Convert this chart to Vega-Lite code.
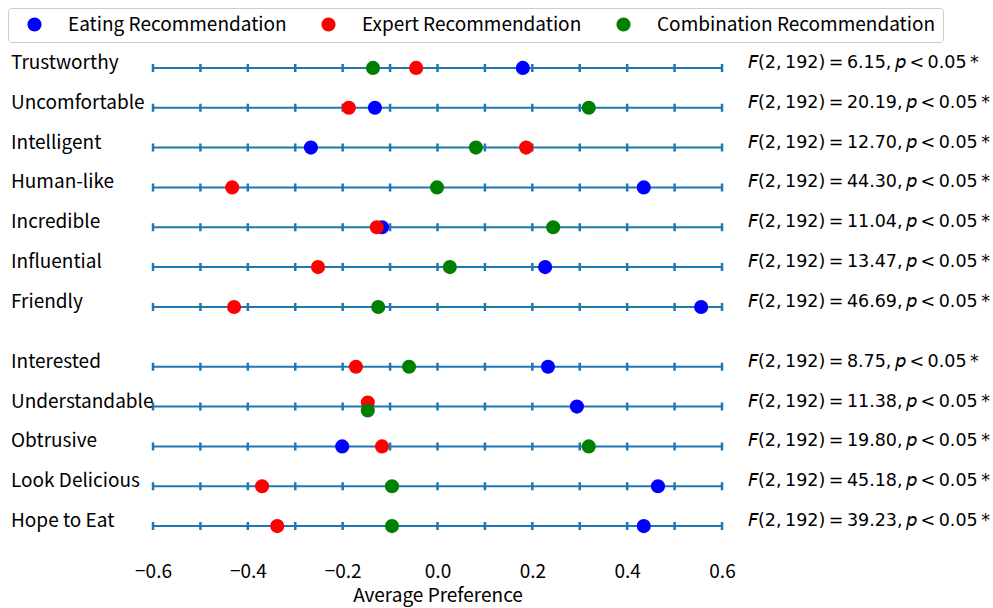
{
  "$schema": "https://vega.github.io/schema/vega-lite/v6.json",
  "width": 569,
  "height": 498,
  "autosize": {"type": "none"},
  "padding": {"left": 153, "top": 48, "right": 271, "bottom": 62},
  "background": "white",
  "config": {"view": {"stroke": null}, "font": "Noto Sans CJK JP"},
  "datasets": {
    "rows": [
      {"attr": "Trustworthy", "pos": 0, "stat": "𝘍(2,\u2009192)\u2009=\u20096.15,\u2009𝘱\u2009<\u20090.05\u2009*"},
      {"attr": "Uncomfortable", "pos": 1, "stat": "𝘍(2,\u2009192)\u2009=\u200920.19,\u2009𝘱\u2009<\u20090.05\u2009*"},
      {"attr": "Intelligent", "pos": 2, "stat": "𝘍(2,\u2009192)\u2009=\u200912.70,\u2009𝘱\u2009<\u20090.05\u2009*"},
      {"attr": "Human-like", "pos": 3, "stat": "𝘍(2,\u2009192)\u2009=\u200944.30,\u2009𝘱\u2009<\u20090.05\u2009*"},
      {"attr": "Incredible", "pos": 4, "stat": "𝘍(2,\u2009192)\u2009=\u200911.04,\u2009𝘱\u2009<\u20090.05\u2009*"},
      {"attr": "Influential", "pos": 5, "stat": "𝘍(2,\u2009192)\u2009=\u200913.47,\u2009𝘱\u2009<\u20090.05\u2009*"},
      {"attr": "Friendly", "pos": 6, "stat": "𝘍(2,\u2009192)\u2009=\u200946.69,\u2009𝘱\u2009<\u20090.05\u2009*"},
      {"attr": "Interested", "pos": 7.5, "stat": "𝘍(2,\u2009192)\u2009=\u20098.75,\u2009𝘱\u2009<\u20090.05\u2009*"},
      {"attr": "Understandable", "pos": 8.5, "stat": "𝘍(2,\u2009192)\u2009=\u200911.38,\u2009𝘱\u2009<\u20090.05\u2009*"},
      {"attr": "Obtrusive", "pos": 9.5, "stat": "𝘍(2,\u2009192)\u2009=\u200919.80,\u2009𝘱\u2009<\u20090.05\u2009*"},
      {"attr": "Look Delicious", "pos": 10.5, "stat": "𝘍(2,\u2009192)\u2009=\u200945.18,\u2009𝘱\u2009<\u20090.05\u2009*"},
      {"attr": "Hope to Eat", "pos": 11.5, "stat": "𝘍(2,\u2009192)\u2009=\u200939.23,\u2009𝘱\u2009<\u20090.05\u2009*"}
    ],
    "points": [
      {"attr": "Trustworthy", "group": "Eating Recommendation", "value": 0.18, "pos": 0},
      {"attr": "Uncomfortable", "group": "Eating Recommendation", "value": -0.132, "pos": 1},
      {"attr": "Intelligent", "group": "Eating Recommendation", "value": -0.267, "pos": 2},
      {"attr": "Human-like", "group": "Eating Recommendation", "value": 0.435, "pos": 3},
      {"attr": "Incredible", "group": "Eating Recommendation", "value": -0.117, "pos": 4},
      {"attr": "Influential", "group": "Eating Recommendation", "value": 0.227, "pos": 5},
      {"attr": "Friendly", "group": "Eating Recommendation", "value": 0.556, "pos": 6},
      {"attr": "Interested", "group": "Eating Recommendation", "value": 0.233, "pos": 7.5},
      {"attr": "Understandable", "group": "Eating Recommendation", "value": 0.294, "pos": 8.5},
      {"attr": "Obtrusive", "group": "Eating Recommendation", "value": -0.201, "pos": 9.5},
      {"attr": "Look Delicious", "group": "Eating Recommendation", "value": 0.465, "pos": 10.5},
      {"attr": "Hope to Eat", "group": "Eating Recommendation", "value": 0.435, "pos": 11.5},
      {"attr": "Trustworthy", "group": "Expert Recommendation", "value": -0.045, "pos": 0},
      {"attr": "Uncomfortable", "group": "Expert Recommendation", "value": -0.187, "pos": 1},
      {"attr": "Intelligent", "group": "Expert Recommendation", "value": 0.187, "pos": 2},
      {"attr": "Human-like", "group": "Expert Recommendation", "value": -0.433, "pos": 3},
      {"attr": "Incredible", "group": "Expert Recommendation", "value": -0.128, "pos": 4},
      {"attr": "Influential", "group": "Expert Recommendation", "value": -0.252, "pos": 5},
      {"attr": "Friendly", "group": "Expert Recommendation", "value": -0.429, "pos": 6},
      {"attr": "Interested", "group": "Expert Recommendation", "value": -0.172, "pos": 7.5},
      {"attr": "Understandable", "group": "Expert Recommendation", "value": -0.147, "pos": 8.4},
      {"attr": "Obtrusive", "group": "Expert Recommendation", "value": -0.117, "pos": 9.5},
      {"attr": "Look Delicious", "group": "Expert Recommendation", "value": -0.37, "pos": 10.5},
      {"attr": "Hope to Eat", "group": "Expert Recommendation", "value": -0.338, "pos": 11.5},
      {"attr": "Trustworthy", "group": "Combination Recommendation", "value": -0.136, "pos": 0},
      {"attr": "Uncomfortable", "group": "Combination Recommendation", "value": 0.319, "pos": 1},
      {"attr": "Intelligent", "group": "Combination Recommendation", "value": 0.081, "pos": 2},
      {"attr": "Human-like", "group": "Combination Recommendation", "value": -0.001, "pos": 3},
      {"attr": "Incredible", "group": "Combination Recommendation", "value": 0.244, "pos": 4},
      {"attr": "Influential", "group": "Combination Recommendation", "value": 0.026, "pos": 5},
      {"attr": "Friendly", "group": "Combination Recommendation", "value": -0.125, "pos": 6},
      {"attr": "Interested", "group": "Combination Recommendation", "value": -0.06, "pos": 7.5},
      {"attr": "Understandable", "group": "Combination Recommendation", "value": -0.147, "pos": 8.6},
      {"attr": "Obtrusive", "group": "Combination Recommendation", "value": 0.319, "pos": 9.5},
      {"attr": "Look Delicious", "group": "Combination Recommendation", "value": -0.096, "pos": 10.5},
      {"attr": "Hope to Eat", "group": "Combination Recommendation", "value": -0.096, "pos": 11.5}
    ]
  },
  "layer": [
    {
      "data": {"name": "rows"},
      "mark": {"type": "rule", "color": "#1f77b4", "strokeWidth": 2},
      "encoding": {
        "x": {"datum": -0.6, "type": "quantitative", "scale": {"domain": [-0.6, 0.6], "nice": false, "zero": false}},
        "x2": {"datum": 0.6},
        "y": {"field": "pos", "type": "quantitative", "scale": {"domain": [-0.5, 12], "reverse": true, "nice": false, "zero": false}, "axis": null}
      }
    },
    {
      "data": {"name": "rows"},
      "mark": {"type": "rule", "color": "#1f77b4", "strokeWidth": 8, "strokeDash": [2.5, 44.91667], "xOffset": -1.25, "x2Offset": 1.25},
      "encoding": {
        "x": {"datum": -0.6, "type": "quantitative"},
        "x2": {"datum": 0.6},
        "y": {"field": "pos", "type": "quantitative"}
      }
    },
    {
      "data": {"name": "rows"},
      "mark": {"type": "text", "align": "left", "baseline": "middle", "dx": -142, "dy": -5, "fontSize": 19, "font": "Noto Sans CJK JP", "color": "black"},
      "encoding": {
        "x": {"datum": -0.6, "type": "quantitative"},
        "y": {"field": "pos", "type": "quantitative"},
        "text": {"field": "attr"}
      }
    },
    {
      "data": {"name": "rows"},
      "mark": {"type": "text", "align": "left", "baseline": "middle", "dx": 26, "dy": -5, "fontSize": 17.5, "font": "DejaVu Sans", "color": "black"},
      "encoding": {
        "x": {"datum": 0.6, "type": "quantitative"},
        "y": {"field": "pos", "type": "quantitative"},
        "text": {"field": "stat"}
      }
    },
    {
      "data": {"name": "points"},
      "mark": {"type": "point", "filled": true, "opacity": 1, "size": 200, "shape": "circle", "strokeWidth": 0},
      "encoding": {
        "x": {
          "field": "value", "type": "quantitative",
          "axis": {"values": [-0.6, -0.4, -0.2, 0, 0.2, 0.4, 0.6], "format": ".1f", "title": "Average Preference", "domain": false, "ticks": false, "grid": false, "labelFlush": false, "labelFontSize": 19, "labelFont": "Noto Sans CJK JP", "labelColor": "black", "labelPadding": 16, "titleFontSize": 19, "titleFont": "Noto Sans CJK JP", "titleFontWeight": "normal", "titleColor": "black", "titlePadding": 5}
        },
        "y": {"field": "pos", "type": "quantitative"},
        "color": {
          "field": "group", "type": "nominal",
          "scale": {"domain": ["Eating Recommendation", "Expert Recommendation", "Combination Recommendation"], "range": ["#0000ff", "#ff0000", "#008000"]},
          "legend": {"orient": "none", "legendX": -145, "legendY": -40, "direction": "horizontal", "title": null, "strokeColor": "#cccccc", "cornerRadius": 3, "padding": 7, "symbolSize": 200, "symbolType": "circle", "symbolOpacity": 1, "symbolStrokeWidth": 0, "labelFontSize": 19, "labelFont": "Noto Sans CJK JP", "labelColor": "black", "labelOffset": 24, "columnPadding": 22, "gridAlign": "none", "symbolOffset": 10, "fillColor": "white", "labelLimit": 400}
        }
      }
    }
  ]
}
